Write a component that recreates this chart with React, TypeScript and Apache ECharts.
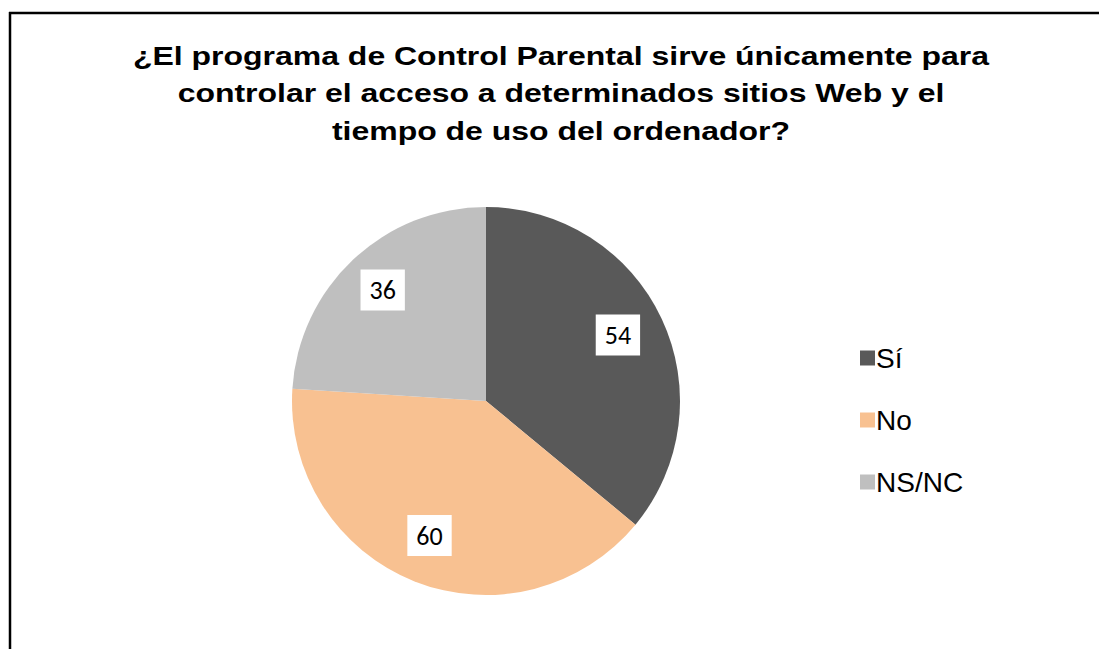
import React, { useEffect, useRef } from "react";
import * as echarts from "echarts";

const titleText = "¿El programa de Control Parental sirve únicamente para\ncontrolar el acceso a determinados sitios Web y el\ntiempo de uso del ordenador?";
const categories = ["Sí", "No", "NS/NC"];
const values = [54, 60, 36];
const colors = ["#595959", "#F8C191", "#BFBFBF"];

export default function App() {
  const ref = useRef<HTMLDivElement>(null);
  useEffect(() => {
    document.body.style.margin = "0";
    const chart = echarts.init(ref.current!, undefined, { renderer: "svg" });
    const data = categories.map((c, i) => ({ name: c, value: values[i], itemStyle: { color: colors[i] } }));
    chart.setOption({
      animation: false,
      backgroundColor: "#ffffff",
      legend: {
        orient: "vertical",
        left: 855,
        top: 339,
        itemWidth: 15,
        itemHeight: 15,
        itemGap: 34,
        icon: "rect",
        selectedMode: false,
        textStyle: {
          fontFamily: "Liberation Sans, Arial, sans-serif",
          fontSize: 28,
          color: "#000000",
          padding: [0, 0, 0, -4],
        },
        data: categories,
      },
      graphic: [
        { type: "line", shape: { x1: 9, y1: 13, x2: 1099, y2: 13 }, style: { stroke: "#000", lineWidth: 2.5 } },
        { type: "line", shape: { x1: 10, y1: 12, x2: 10, y2: 649 }, style: { stroke: "#000", lineWidth: 2.5 } },
        {
          type: "text",
          x: 561,
          y: 37,
          scaleX: 1.23,
          style: {
            text: titleText,
            fontFamily: "Liberation Sans, Arial, sans-serif",
            fontWeight: "bold",
            fontSize: 26,
            lineHeight: 37.5,
            fill: "#000000",
            textAlign: "center",
            textVerticalAlign: "top",
          },
        },
      ],
      series: [
        {
          type: "pie",
          center: [486, 401],
          radius: [0, 194],
          startAngle: 90,
          clockwise: true,
          silent: true,
          label: { show: false },
          labelLine: { show: false },
          data,
        },
        {
          type: "pie",
          center: [484, 398],
          radius: [96, 194],
          startAngle: 90,
          clockwise: true,
          silent: true,
          itemStyle: { color: "transparent" },
          label: {
            show: true,
            position: "inside",
            formatter: "{c}",
            fontFamily: "Carlito, Calibri, Lato, sans-serif",
            fontSize: 26,
            color: "#000000",
            backgroundColor: "#ffffff",
            padding: [6, 9, 5, 9],
            lineHeight: 30,
          },
          labelLine: { show: false },
          data: categories.map((c, i) => ({ name: c, value: values[i], itemStyle: { color: "transparent" } })),
        },
      ],
    });
    return () => chart.dispose();
  }, []);
  return <div ref={ref} style={{ width: 1099, height: 649 }} />;
}
